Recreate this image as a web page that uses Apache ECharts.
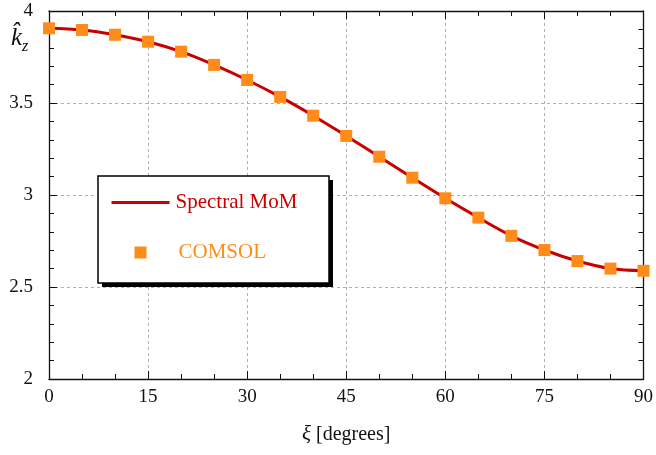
<!DOCTYPE html>
<html>
<head>
<meta charset="utf-8">
<script src="https://cdn.jsdelivr.net/npm/echarts@6/dist/echarts.min.js"></script>
<style>
  html, body { margin: 0; padding: 0; background: #fff; }
  #chart { width: 656px; height: 455px; }
</style>
</head>
<body>
<div id="chart"></div>
<script>
// Tilt angle xi in degrees
const xiDeg = [0, 5, 10, 15, 20, 25, 30, 35, 40, 45, 50, 55, 60, 65, 70, 75, 80, 85, 90];
// Normalised propagation constant from the spectral method of moments
const spectralMoM = [3.906, 3.897, 3.871, 3.833, 3.779, 3.707, 3.625, 3.533, 3.431, 3.321, 3.208, 3.094, 2.982, 2.877, 2.778, 2.701, 2.641, 2.600, 2.588];
// Reference values computed with COMSOL
const comsol = [3.906, 3.897, 3.871, 3.833, 3.779, 3.707, 3.625, 3.533, 3.431, 3.321, 3.208, 3.094, 2.982, 2.877, 2.778, 2.701, 2.641, 2.600, 2.588];
const xTicks = [0, 15, 30, 45, 60, 75, 90];
const yTicks = [2, 2.5, 3, 3.5, 4];

const FONT = '"Liberation Serif", "DejaVu Serif", serif';
const RED = '#c80000';
const ORANGE = '#ff8c1a';

const chart = echarts.init(document.getElementById('chart'), null, { renderer: 'canvas' });

const gridStyle = { show: true, lineStyle: { color: '#b0b0b0', type: [3, 3], width: 1 } };
const axisLine = { show: true, onZero: false, lineStyle: { color: '#111', width: 1.3 } };
const tick = { show: true, inside: true, length: 8, lineStyle: { color: '#111', width: 1 } };
const minor = (n) => ({ show: true, splitNumber: n, length: 5, lineStyle: { color: '#111', width: 1 } });

const xBase = {
  type: 'value', min: xTicks[0], max: xTicks[xTicks.length - 1], interval: 15,
  axisLine, axisTick: tick, minorTick: minor(3)
};
const yBase = {
  type: 'value', min: yTicks[0], max: yTicks[yTicks.length - 1], interval: 0.5,
  axisLine, axisTick: tick, minorTick: minor(5)
};

// legend frame geometry
const box = { x: 98, y: 176, w: 231, h: 107 };
// small square centred in the 58x12 legend icon slot
const squareIcon = 'path://M0,0L0,0M23,0L35,0L35,12L23,12ZM58,12L58,12';

chart.setOption({
  animation: false,
  backgroundColor: '#fff',
  grid: { left: 49, right: 11, top: 11, bottom: 76, containLabel: false },
  xAxis: [
    Object.assign({}, xBase, {
      position: 'bottom',
      splitLine: gridStyle,
      axisLabel: { show: true, margin: 9, color: '#111', fontFamily: FONT, fontSize: 19 },
      name: '{i|ξ} [degrees]', nameLocation: 'middle', nameGap: 45,
      nameTextStyle: {
        color: '#111', fontFamily: FONT, fontSize: 20,
        rich: { i: { fontFamily: FONT, fontStyle: 'italic', fontSize: 21, color: '#111' } }
      }
    }),
    Object.assign({}, xBase, {
      position: 'top',
      splitLine: { show: false },
      axisLabel: { show: false }
    })
  ],
  yAxis: [
    Object.assign({}, yBase, {
      position: 'left',
      splitLine: gridStyle,
      axisLabel: {
        show: true, margin: 16, color: '#111', fontFamily: FONT, fontSize: 19,
        formatter: (v) => String(v)
      }
    }),
    Object.assign({}, yBase, {
      position: 'right',
      splitLine: { show: false },
      axisLabel: { show: false }
    })
  ],
  legend: {
    orient: 'vertical',
    left: box.x + 1, top: box.y + 1,
    padding: [15, 10, 10, 11],
    itemGap: 29,
    itemWidth: 58, itemHeight: 12,
    z: 10,
    textStyle: { fontFamily: FONT, fontSize: 21, padding: [0, 0, 0, 1] },
    data: [
      {
        name: 'Spectral MoM',
        itemStyle: { color: 'transparent', borderWidth: 0 },
        lineStyle: { color: RED, width: 3 },
        textStyle: { color: RED }
      },
      {
        name: 'COMSOL', icon: squareIcon,
        itemStyle: { color: ORANGE },
        textStyle: { color: ORANGE, padding: [0, 0, 0, 4] }
      }
    ]
  },
  graphic: [
    {
      type: 'rect', z: 5,
      shape: { x: box.x + 4, y: box.y + 4, width: box.w, height: box.h },
      style: { fill: '#000' }
    },
    {
      type: 'rect', z: 6,
      shape: { x: box.x, y: box.y, width: box.w, height: box.h },
      style: { fill: '#fff', stroke: '#000', lineWidth: 1.5 }
    },
    {
      type: 'text', left: 11, top: 26,
      style: {
        text: '{k|k\u0302}{z|z}',
        rich: {
          k: { fontFamily: FONT, fontStyle: 'italic', fontSize: 25, fill: '#111' },
          z: { fontFamily: FONT, fontStyle: 'italic', fontSize: 16, fill: '#111', padding: [16, 0, 0, 0] }
        }
      }
    }
  ],
  series: [
    {
      name: 'Spectral MoM', type: 'line', xAxisIndex: 0, yAxisIndex: 0,
      data: xiDeg.map((x, i) => [x, spectralMoM[i]]),
      smooth: 0.35, showSymbol: false, symbol: 'none',
      lineStyle: { color: RED, width: 3 },
      itemStyle: { color: RED },
      z: 2
    },
    {
      name: 'COMSOL', type: 'scatter', xAxisIndex: 0, yAxisIndex: 0,
      data: xiDeg.map((x, i) => [x, comsol[i]]),
      symbol: 'rect', symbolSize: 12,
      itemStyle: { color: ORANGE, opacity: 1 },
      z: 3
    }
  ]
});
</script>
</body>
</html>
